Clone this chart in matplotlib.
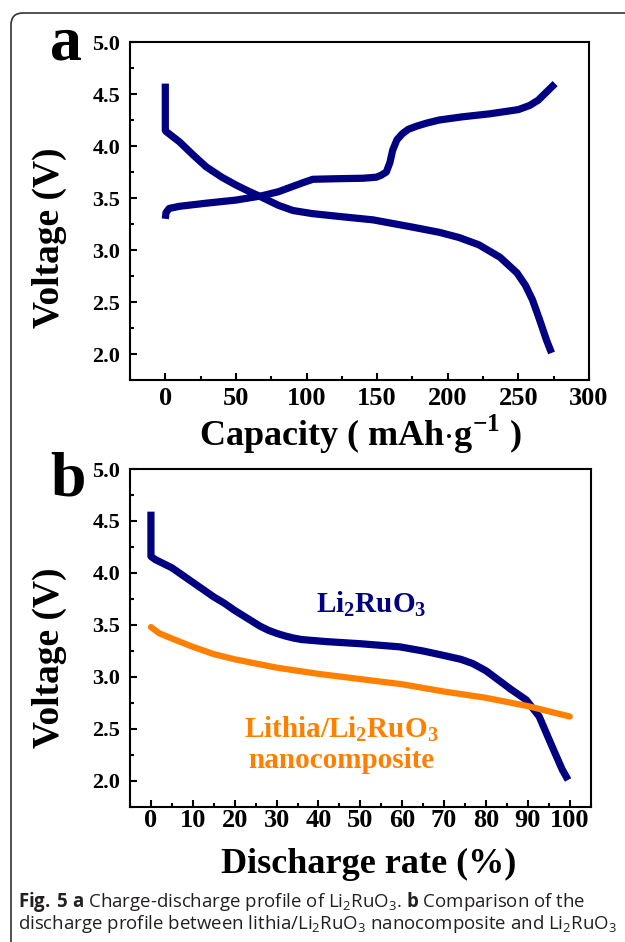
import matplotlib
matplotlib.use("Agg")
import matplotlib.pyplot as plt
import matplotlib.transforms as mtransforms
from matplotlib.patches import FancyBboxPatch
from matplotlib.ticker import MultipleLocator

# === Data ===
# panel a: Li2RuO3 charge / discharge (capacity in mAh/g, voltage in V)
charge_cap = [0, 0.5, 2.8, 10, 28.9, 50, 67.9, 80, 90, 97, 104.5, 120, 140, 149.4, 153,
              156.5, 159, 161, 164, 168, 172, 177.8, 185, 194, 210, 230, 250, 258, 264, 270, 276]
charge_volt = [3.30, 3.36, 3.40, 3.42, 3.45, 3.48, 3.52, 3.56, 3.61, 3.645, 3.68, 3.685, 3.69, 3.70,
               3.72, 3.75, 3.84, 3.96, 4.06, 4.12, 4.16, 4.19, 4.22, 4.25, 4.28, 4.31, 4.35, 4.39,
               4.44, 4.52, 4.60]
discharge_cap = [0, 0, 0.5, 10, 20, 28.9, 40, 50, 59, 67.9, 80, 90.3, 104, 125, 147, 175, 194, 208,
                 222, 237, 249, 255, 260, 265, 270, 273.5]
discharge_volt = [4.60, 4.15, 4.14, 4.04, 3.91, 3.80, 3.70, 3.625, 3.565, 3.51, 3.43, 3.38, 3.35, 3.32,
                  3.29, 3.22, 3.17, 3.12, 3.05, 2.93, 2.78, 2.66, 2.52, 2.33, 2.13, 2.01]

# panel b: discharge profiles vs discharge rate (%)
li2ruo3_rate = [0, 0, 1, 2.5, 5, 7.5, 10, 12.5, 15, 17.5, 20, 23, 26, 28, 30, 32, 34, 36, 42, 50,
                59.4, 65, 69.6, 74, 76.8, 80, 83, 86, 89.6, 92.7, 95.8, 98.2, 99.6]
li2ruo3_volt = [4.59, 4.16, 4.13, 4.10, 4.05, 3.98, 3.91, 3.84, 3.77, 3.71, 3.64, 3.565, 3.49, 3.45,
                3.42, 3.395, 3.375, 3.36, 3.34, 3.32, 3.29, 3.25, 3.21, 3.17, 3.13, 3.06, 2.97, 2.88,
                2.78, 2.62, 2.33, 2.11, 2.01]
lithia_rate = [0, 2, 5, 10, 15, 20, 30, 40, 50, 60, 70, 80, 90, 100]
lithia_volt = [3.48, 3.42, 3.37, 3.29, 3.22, 3.17, 3.09, 3.03, 2.98, 2.93, 2.86, 2.80, 2.72, 2.62]

NAVY = "#000080"
ORANGE = "#ff8000"
W, H = 625, 942

plt.rcParams["font.family"] = ["Liberation Serif", "DejaVu Serif"]
plt.rcParams["font.weight"] = "bold"
plt.rcParams["mathtext.fontset"] = "custom"
plt.rcParams["mathtext.rm"] = "Liberation Serif"
plt.rcParams["mathtext.bf"] = "Liberation Serif:bold"
plt.rcParams["mathtext.sf"] = "Open Sans:regular"
plt.rcParams["mathtext.tt"] = "Open Sans:bold"


def fx(px):
    return px / W


def fy(py):
    return 1 - py / H


def style_axes(ax, xmajor, xminor, xpad):
    ax.xaxis.set_major_locator(MultipleLocator(xmajor))
    ax.xaxis.set_minor_locator(MultipleLocator(xminor))
    ax.yaxis.set_major_locator(MultipleLocator(0.5))
    ax.yaxis.set_minor_locator(MultipleLocator(0.25))
    ax.tick_params(which="both", direction="in", top=False, right=False, width=1.5)
    ax.tick_params(which="major", length=5)
    ax.tick_params(which="minor", length=3)
    ax.tick_params(axis="y", labelsize=16, pad=7)
    ax.tick_params(axis="x", labelsize=19, pad=xpad)
    ax.yaxis.set_major_formatter(plt.FuncFormatter(lambda v, p: f"{v:.1f}"))
    for s in ax.spines.values():
        s.set_linewidth(1.5)


fig = plt.figure(figsize=(W / 100, H / 100), dpi=100)

# rounded frame around the figure (runs off right and bottom edges)
frame = FancyBboxPatch((11, -30), 700, H - 13 + 30, boxstyle="round,pad=0,rounding_size=12",
                       transform=mtransforms.IdentityTransform(), fill=False,
                       edgecolor="#333333", linewidth=1.2)
fig.patches.append(frame)

# === panel a ===
ax_a = fig.add_axes([fx(130), fy(380), fx(459), 338 / H])
ax_a.plot(charge_cap, charge_volt, color=NAVY, lw=5.2, solid_capstyle="butt", solid_joinstyle="round")
ax_a.plot(discharge_cap, discharge_volt, color=NAVY, lw=5.2, solid_capstyle="butt", solid_joinstyle="round")
ax_a.set_xlim(-25, 300)
ax_a.set_ylim(1.75, 5.0)
style_axes(ax_a, 50, 25, 5)

fig.text(fx(49), fy(238), "Voltage (V)", rotation=90, ha="center", va="center", fontsize=27)
fig.text(fx(360), fy(446), r"Capacity ( mAh$\cdot$g$^{\mathbf{-1}}$ )", ha="center", va="baseline",
         fontsize=26)
fig.text(fx(50), fy(60), "a", ha="left", va="baseline", fontsize=46)

# === panel b ===
ax_b = fig.add_axes([fx(130), fy(807), fx(460.7), 338 / H])
ax_b.plot(li2ruo3_rate, li2ruo3_volt, color=NAVY, lw=5.2, solid_capstyle="butt", solid_joinstyle="round")
ax_b.plot(lithia_rate, lithia_volt, color=ORANGE, lw=4.5, solid_capstyle="round")
ax_b.set_xlim(-5, 105)
ax_b.set_ylim(1.75, 5.0)
style_axes(ax_b, 10, 5, 1.5)

ax_b.text(52.5, 3.625, r"Li$_\mathbf{2}$RuO$_\mathbf{3}$", color=NAVY, ha="center", va="baseline",
          fontsize=21)
ax_b.text(45.5, 2.42, r"Lithia/Li$_\mathbf{2}$RuO$_\mathbf{3}$", color=ORANGE, ha="center",
          va="baseline", fontsize=21)
ax_b.text(45.5, 2.125, "nanocomposite", color=ORANGE, ha="center", va="baseline", fontsize=21)

fig.text(fx(49), fy(658), "Voltage (V)", rotation=90, ha="center", va="center", fontsize=27)
fig.text(fx(369), fy(873), "Discharge rate (%)", ha="center", va="baseline", fontsize=26)
fig.text(fx(50), fy(495), "b", ha="left", va="baseline", fontsize=46)

# === caption ===
cap1 = (r"$\mathtt{Fig.\,5}$ $\mathtt{a}$ Charge-discharge profile of "
        r"Li$_\mathsf{2}$RuO$_\mathsf{3}$. $\mathtt{b}$ Comparison of the")
cap2 = (r"discharge profile between lithia/Li$_\mathsf{2}$RuO$_\mathsf{3}$ nanocomposite and "
        r"Li$_\mathsf{2}$RuO$_\mathsf{3}$")
fig.text(fx(18), fy(907), cap1, ha="left", va="baseline", fontsize=13.4, family="Open Sans",
         weight="normal", color="#231f20")
fig.text(fx(18), fy(929), cap2, ha="left", va="baseline", fontsize=13.4, family="Open Sans",
         weight="normal", color="#231f20")

fig.savefig("out.png", dpi=100, facecolor="white")
